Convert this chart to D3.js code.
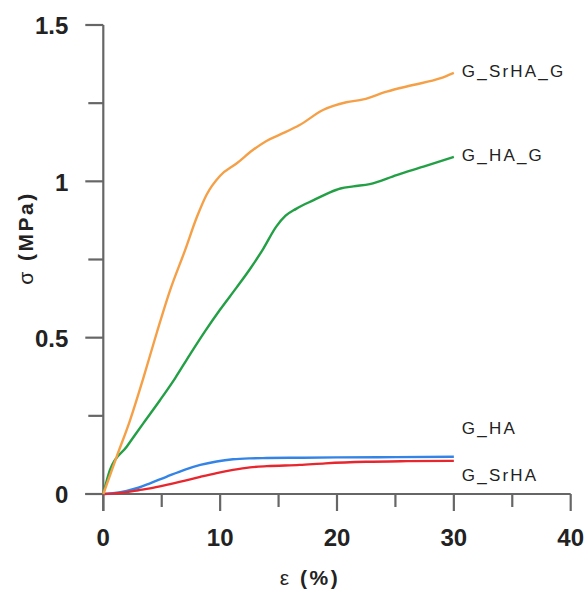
<!DOCTYPE html>
<html><head><meta charset="utf-8">
<script src="https://cdn.jsdelivr.net/npm/d3@7"></script>
<style>
body{margin:0;background:#fff;}
svg{display:block;font-family:"Liberation Sans",Arial,sans-serif;}
</style></head>
<body><svg id="c" width="588" height="594"></svg>
<script>
// Data (strain %, stress MPa)
const seriesNames = ["G_SrHA_G", "G_HA_G", "G_HA", "G_SrHA"];
const seriesColors = ["#f5a047", "#23a046", "#3384e6", "#e8262e"];
const strainSrHAG = [0,1.14,2.28,3.42,4.57,5.72,7.0,8.0,8.85,10.0,11.4,12.8,14.0,15.15,16.8,18.8,20.8,22.25,24.25,26.5,28.8,30];
const stressSrHAG = [0,0.119,0.235,0.37,0.515,0.652,0.78,0.885,0.958,1.018,1.057,1.10,1.13,1.15,1.18,1.228,1.253,1.262,1.287,1.308,1.329,1.347];
const strainHAG = [0,0.57,2.0,3.42,4.85,6.14,7.4,8.7,10.0,11.4,12.6,13.7,14.8,15.6,16.5,18.0,19.4,20.3,21.4,22.8,25.1,27.4,30];
const stressHAG = [0,0.077,0.151,0.226,0.3,0.37,0.445,0.52,0.59,0.66,0.722,0.785,0.855,0.89,0.912,0.94,0.965,0.977,0.984,0.991,1.02,1.047,1.078];
const strainHA = [0,1,2,3,4,5.4,7,8.3,9.7,11.1,12.55,14,16.8,20,25,30];
const stressHA = [0,0.003,0.01,0.02,0.034,0.055,0.078,0.093,0.104,0.111,0.114,0.115,0.116,0.117,0.118,0.119];
const strainSrHA = [0,1,2,3,4,5.4,7,8.3,9.7,11.1,12.55,14,16.8,19,22.5,26,30];
const stressSrHA = [0,0.002,0.006,0.012,0.018,0.029,0.043,0.055,0.067,0.077,0.085,0.089,0.093,0.098,0.103,0.105,0.106];
const xMajorTicks = [0,10,20,30,40];
const xMinorTicks = [5,15,25,35];
const yMajorTicks = [0,0.5,1,1.5];
const yMinorTicks = [0.25,0.75,1.25];
const yTickLabels = ["0","0.5","1","1.5"];

const series = [
  {name: seriesNames[0], color: seriesColors[0], xs: strainSrHAG, ys: stressSrHAG, dy: 0},
  {name: seriesNames[1], color: seriesColors[1], xs: strainHAG, ys: stressHAG, dy: 0},
  {name: seriesNames[2], color: seriesColors[2], xs: strainHA, ys: stressHA, dy: -27},
  {name: seriesNames[3], color: seriesColors[3], xs: strainSrHA, ys: stressSrHA, dy: 16},
];

const svg = d3.select("#c");
const x = d3.scaleLinear().domain([0,40]).range([103.3,570.7]);
const y = d3.scaleLinear().domain([0,1.5]).range([494,25]);
const axisColor = "#666";

// y axis
const gy = svg.append("g").attr("transform","translate(103.3,0)");
gy.append("line").attr("x1",0).attr("x2",0).attr("y1",y(1.5)).attr("y2",y(0)+17)
  .attr("stroke",axisColor).attr("stroke-width",2.2);
gy.selectAll(".ymaj").data(yMajorTicks).join("line")
  .attr("x1",-18).attr("x2",0).attr("y1",d=>y(d)).attr("y2",d=>y(d))
  .attr("stroke",axisColor).attr("stroke-width",2.2);
gy.selectAll(".ymin").data(yMinorTicks).join("line")
  .attr("x1",-15).attr("x2",0).attr("y1",d=>y(d)).attr("y2",d=>y(d))
  .attr("stroke",axisColor).attr("stroke-width",2.2);
gy.selectAll(".ylab").data(yMajorTicks).join("text")
  .attr("x",-35).attr("y",d=>y(d)+3).attr("text-anchor","end").attr("dominant-baseline","middle")
  .attr("font-size",24).attr("font-weight","bold").attr("fill","#222")
  .text((d,i)=>yTickLabels[i]);

// x axis
const gx = svg.append("g").attr("transform",`translate(0,${y(0)})`);
gx.append("line").attr("x1",x(0)-18).attr("x2",x(40)).attr("y1",0).attr("y2",0)
  .attr("stroke",axisColor).attr("stroke-width",2.2);
gx.selectAll(".xmaj").data(xMajorTicks).join("line")
  .attr("x1",d=>x(d)).attr("x2",d=>x(d)).attr("y1",0).attr("y2",17)
  .attr("stroke",axisColor).attr("stroke-width",2.2);
gx.selectAll(".xmin").data(xMinorTicks).join("line")
  .attr("x1",d=>x(d)).attr("x2",d=>x(d)).attr("y1",0).attr("y2",13)
  .attr("stroke",axisColor).attr("stroke-width",2.2);
gx.selectAll(".xlab").data(xMajorTicks).join("text")
  .attr("x",d=>x(d)).attr("y",46).attr("text-anchor","middle").attr("dominant-baseline","middle")
  .attr("font-size",24).attr("font-weight","bold").attr("fill","#222")
  .text(d=>d);

// titles
const yt = svg.append("text").attr("transform","translate(33,238) rotate(-90)")
  .attr("text-anchor","middle").attr("font-size",21).attr("font-weight","bold")
  .attr("letter-spacing",2.5).attr("fill","#222");
yt.append("tspan").attr("font-weight","normal").text("σ");
yt.append("tspan").text(" (MPa)");
const xt = svg.append("text").attr("x",310).attr("y",585).attr("text-anchor","middle")
  .attr("font-size",21).attr("font-weight","bold").attr("letter-spacing",2.5)
  .attr("fill","#222");
xt.append("tspan").attr("font-weight","normal").text("ε");
xt.append("tspan").text(" (%)");

// lines
const line = d3.line().x(d=>x(d[0])).y(d=>y(d[1])).curve(d3.curveMonotoneX);
const order = [2,3,1,0];
order.forEach(i=>{
  const s = series[i];
  const pts = s.xs.map((v,k)=>[v,s.ys[k]]);
  svg.append("path").datum(pts).attr("d",line).attr("fill","none")
    .attr("stroke",s.color).attr("stroke-width",2.4).attr("stroke-linejoin","round");
});

// labels
series.forEach(s=>{
  const last = s.xs.length-1;
  svg.append("text").attr("x",x(s.xs[last])+8).attr("y",y(s.ys[last])+s.dy)
    .attr("dominant-baseline","middle").attr("font-size",17).attr("letter-spacing",2.2)
    .attr("fill","#222").text(s.name);
});
</script></body></html>
